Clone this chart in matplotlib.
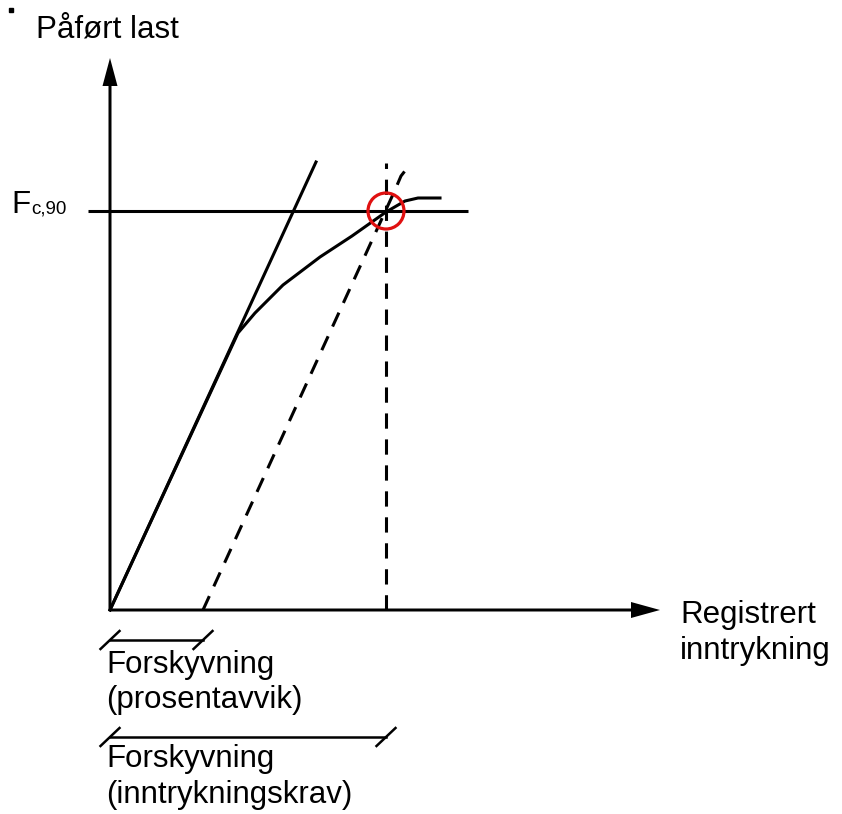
import matplotlib
matplotlib.use("Agg")
import matplotlib.pyplot as plt
import matplotlib.patches as mpatches
import numpy as np

# ── Schematic data (displacement, load) measured from the origin ─────────
# initial tangent line
tangent_x = [0, 206]
tangent_y = [0, 448]

# measured load-indentation curve
curve_x = [0, 128, 145, 173, 210, 242, 276, 295, 308, 330]
curve_y = [0, 277, 297, 325, 353, 374, 398, 409, 412, 412]

# tangent shifted by the offset (dashed)
offset_x = [93, 285, 291, 298]
offset_y = [0, 420, 434, 443]

F_C90 = 399          # load level F_c,90
X_REQ = 276          # indentation at F_c,90
X_OFFSET = 93        # offset from percentage deviation
CIRCLE_R = 18

X_AXIS_END = 550
Y_AXIS_END = 552

# ── Style ────────────────────────────────────────────────────────────────
plt.rcParams["font.family"] = ["Liberation Sans", "DejaVu Sans"]
FS = 22.5
LW = 2.2
DASH = (5, 3.5)

fig = plt.figure(figsize=(8.42, 8.14), dpi=100)
ax = fig.add_axes([0, 0, 1, 1])
ax.set_xlim(-110, 732)
ax.set_ylim(-204, 610)
ax.set_aspect("equal")
ax.axis("off")

# axes with arrows
ax.arrow(0, 0, X_AXIS_END, 0, width=3, head_width=16, head_length=29,
         length_includes_head=True, color="black", linewidth=0)
ax.arrow(0, 0, 0, Y_AXIS_END, width=3, head_width=15, head_length=28,
         length_includes_head=True, color="black", linewidth=0)

# F_c,90 level and indentation requirement
ax.plot([-22, 358], [F_C90, F_C90], color="black", lw=LW,
        solid_capstyle="butt")
ax.plot([X_REQ, X_REQ], [0, 447], color="black", lw=LW,
        linestyle=(0, DASH))

# curves
ax.plot(tangent_x, tangent_y, color="black", lw=LW)
ax.plot(curve_x, curve_y, color="black", lw=LW, solid_joinstyle="round")
ax.plot(offset_x, offset_y, color="black", lw=LW, linestyle=(0, DASH))

# red marker circle at the intersection
ax.add_patch(mpatches.Circle((X_REQ, F_C90), CIRCLE_R, fill=False,
                             edgecolor="#e01010", linewidth=2.3, zorder=5))

# dimension lines below the axis
def dim_line(x0, x1, y):
    ax.plot([x0, x1], [y, y], color="black", lw=1.8)
    for xc in (x0, x1):
        ax.plot([xc - 9.5, xc + 9.5], [y - 9, y + 9], color="black", lw=1.8)

dim_line(0, X_OFFSET, -30)
dim_line(0, X_REQ, -127)

# ── Text ─────────────────────────────────────────────────────────────────
ax.text(-74, 572, "Påført last", fontsize=FS, va="baseline", ha="left")
ax.text(-99, 397, "F", fontsize=FS, va="baseline", ha="left")
ax.text(-79, 396, "c,90", fontsize=13.5, va="baseline", ha="left")

ax.text(570, -13, "Registrert", fontsize=FS, va="baseline", ha="left")
ax.text(570, -49, "inntrykning", fontsize=FS, va="baseline", ha="left")

ax.text(-4, -63, "Forskyvning", fontsize=FS, va="baseline", ha="left")
ax.text(-4, -98, "(prosentavvik)", fontsize=FS, va="baseline", ha="left")
ax.text(-4, -157, "Forskyvning", fontsize=FS, va="baseline", ha="left")
ax.text(-4, -193, "(inntrykningskrav)", fontsize=FS, va="baseline",
        ha="left")

# small stray dot in the upper left corner
ax.plot([-99], [600], marker="s", markersize=3, color="black")

fig.savefig("out.png", dpi=100)
plt.close(fig)
